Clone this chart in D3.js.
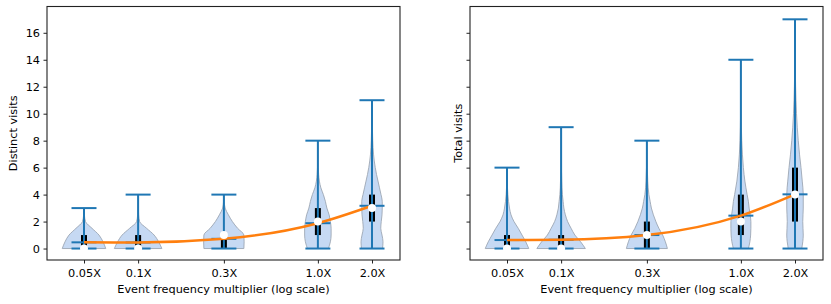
<!DOCTYPE html>
<html><head><meta charset="utf-8">
<script src="https://cdn.jsdelivr.net/npm/d3@7"></script>
<style>html,body{margin:0;padding:0;background:#fff;}svg{display:block;font-family:"DejaVu Sans",sans-serif;}</style>
</head><body><svg id="c" width="831" height="304"></svg>
<script>
// ---------- data ----------
const positions = [0.05, 0.1, 0.3, 1.0, 2.0];
const tickLabels = ["0.05X", "0.1X", "0.3X", "1.0X", "2.0X"];
const yTicks = [0, 2, 4, 6, 8, 10, 12, 14, 16];

const distinctMin = [0, 0, 0, 0, 0];
const distinctMax = [3, 4, 4, 8, 11];
const distinctMean = [0.46, 0.45, 0.72, 1.88, 3.17];
const distinctMedian = [0, 0, 1, 2, 3];
const distinctQ1 = [0, 0, 0, 1, 2];
const distinctQ3 = [1, 1, 1, 3, 4];
const distinctDensity = [
  [[0,0.87],[0.5,0.76],[1,0.6],[1.5,0.32],[2,0.06],[2.5,0.015],[3,0]],
  [[0,0.95],[0.5,0.82],[1,0.64],[1.5,0.34],[2,0.06],[2.5,0.02],[3,0.01],[3.5,0.004],[4,0]],
  [[0,0.8],[0.5,0.81],[1,0.8],[1.5,0.55],[2,0.34],[2.5,0.18],[3,0.05],[3.5,0.012],[4,0]],
  [[0,0.42],[0.5,0.5],[1,0.53],[1.5,0.53],[2,0.5],[2.5,0.45],[3,0.36],[3.5,0.3],[4,0.22],[4.5,0.12],[5,0.06],[5.5,0.03],[6,0.015],[7,0.005],[8,0]],
  [[0,0.42],[0.5,0.44],[1,0.4],[1.5,0.35],[2,0.37],[2.5,0.4],[3,0.41],[3.5,0.41],[4,0.36],[4.5,0.3],[5,0.24],[5.5,0.18],[6,0.13],[6.5,0.09],[7,0.06],[8,0.03],[9,0.015],[10,0.005],[11,0]]
];

const totalMin = [0, 0, 0, 0, 0];
const totalMax = [6, 9, 8, 14, 17];
const totalMean = [0.63, 0.65, 1.0, 2.44, 4.02];
const totalMedian = [0, 0, 1, 2, 4];
const totalQ1 = [0, 0, 0, 1, 2];
const totalQ3 = [1, 1, 2, 4, 6];
const totalDensity = [
  [[0,0.87],[0.5,0.75],[1,0.6],[1.5,0.45],[2,0.28],[2.5,0.16],[3,0.1],[3.5,0.06],[4,0.035],[5,0.01],[6,0]],
  [[0,0.97],[0.5,0.78],[1,0.55],[1.5,0.4],[2,0.26],[2.5,0.17],[3,0.11],[3.5,0.08],[4,0.05],[5,0.025],[6,0.012],[7,0.006],[8,0.002],[9,0]],
  [[0,0.82],[0.5,0.74],[1,0.63],[1.5,0.48],[2,0.36],[2.5,0.26],[3,0.18],[3.5,0.13],[4,0.08],[5,0.035],[6,0.015],[7,0.005],[8,0]],
  [[0,0.3],[0.5,0.36],[1,0.39],[1.5,0.4],[2,0.4],[2.5,0.37],[3,0.33],[3.5,0.3],[4,0.25],[5,0.16],[6,0.1],[7,0.06],[8,0.035],[9,0.02],[10,0.012],[11,0.007],[12,0.004],[13,0.002],[14,0]],
  [[0,0.27],[1,0.33],[2,0.31],[3,0.33],[4,0.33],[5,0.29],[6,0.24],[7,0.18],[8,0.13],[9,0.09],[10,0.06],[11,0.04],[12,0.025],[13,0.015],[14,0.01],[15,0.005],[16,0.002],[17,0]]
];

// ---------- drawing ----------
const svg = d3.select("#c");
const panels = [
  {x0: 47, yLabel: "Distinct visits", labelX: 14, showY: true,
   min: distinctMin, max: distinctMax, mean: distinctMean, median: distinctMedian, q1: distinctQ1, q3: distinctQ3, dens: distinctDensity},
  {x0: 470, yLabel: "Total visits", labelX: 459, showY: false,
   min: totalMin, max: totalMax, mean: totalMean, median: totalMedian, q1: totalQ1, q3: totalQ3, dens: totalDensity}
];
const W = 353, plotTop = 6.5, plotBottom = 260;
const BLUE = "#1f77b4";
const fullHalf = 25, capHalf = 12.5;
const FS = 11.3;

panels.forEach(p => {
  const g = svg.append("g");
  const x = d3.scaleLog().domain([0.05, 2]).range([p.x0 + 37, p.x0 + 325]);
  const y = d3.scaleLinear().domain([-0.85, 17.95]).range([plotBottom, plotTop]);

  // violins
  positions.forEach((pos, i) => {
    const cx = x(pos);
    const area = d3.area()
      .y(d => y(d[0]))
      .x0(d => cx - d[1] * fullHalf)
      .x1(d => cx + d[1] * fullHalf)
      .curve(d3.curveMonotoneY);
    g.append("path").attr("d", area(p.dens[i]))
      .attr("fill", "#c6d9f3").attr("stroke", "#9aa3b0").attr("stroke-width", 1).attr("stroke-opacity", 0.85);
  });
  // quartile bars
  positions.forEach((pos, i) => {
    g.append("line").attr("x1", x(pos)).attr("x2", x(pos))
      .attr("y1", y(p.q1[i])).attr("y2", y(p.q3[i]))
      .attr("stroke", "#000").attr("stroke-width", 6);
  });
  // blue bars, caps, means
  positions.forEach((pos, i) => {
    const cx = x(pos);
    g.append("line").attr("x1", cx).attr("x2", cx).attr("y1", y(p.min[i])).attr("y2", y(p.max[i]))
      .attr("stroke", BLUE).attr("stroke-width", 2);
    [p.min[i], p.max[i], p.mean[i]].forEach(v => {
      g.append("line").attr("x1", cx - capHalf).attr("x2", cx + capHalf).attr("y1", y(v)).attr("y2", y(v))
        .attr("stroke", BLUE).attr("stroke-width", 2);
    });
  });
  // mean trend line
  const line = d3.line().x((d, i) => x(positions[i])).y(d => y(d)).curve(d3.curveMonotoneX);
  g.append("path").attr("d", line(p.mean)).attr("fill", "none").attr("stroke", "#ff7f0e").attr("stroke-width", 2.5);
  // medians
  positions.forEach((pos, i) => {
    g.append("circle").attr("cx", x(pos)).attr("cy", y(p.median[i])).attr("r", 4).attr("fill", "#fff");
  });

  // frame
  g.append("rect").attr("x", p.x0).attr("y", plotTop).attr("width", W).attr("height", plotBottom - plotTop)
    .attr("fill", "none").attr("stroke", "#222").attr("stroke-width", 1.1);

  // axes
  const xAxis = d3.axisBottom(x).tickValues(positions).tickFormat((d, i) => tickLabels[i]).tickSize(3.5).tickPadding(5.5);
  const xg = g.append("g").attr("transform", `translate(0,${plotBottom})`).call(xAxis);
  xg.select(".domain").remove();
  xg.selectAll("line").attr("stroke", "#222");
  xg.selectAll("text").attr("font-size", FS).attr("font-family", "DejaVu Sans").attr("fill", "#000");

  const yAxis = d3.axisLeft(y).tickValues(yTicks).tickSize(3.5).tickPadding(3.5)
    .tickFormat(p.showY ? d3.format("d") : () => "");
  const yg = g.append("g").attr("transform", `translate(${p.x0},0)`).call(yAxis);
  yg.select(".domain").remove();
  yg.selectAll("line").attr("stroke", "#222");
  yg.selectAll("text").attr("font-size", FS).attr("font-family", "DejaVu Sans").attr("fill", "#000");

  g.append("text").attr("x", p.x0 + W / 2).attr("y", 293).attr("text-anchor", "middle")
    .attr("font-size", FS).attr("fill", "#000").text("Event frequency multiplier (log scale)");
  g.append("text").attr("transform", `translate(${p.labelX},${(plotTop + plotBottom) / 2}) rotate(-90)`)
    .attr("text-anchor", "middle").attr("dominant-baseline", "middle")
    .attr("font-size", FS).attr("fill", "#000").text(p.yLabel);
});
</script></body></html>
